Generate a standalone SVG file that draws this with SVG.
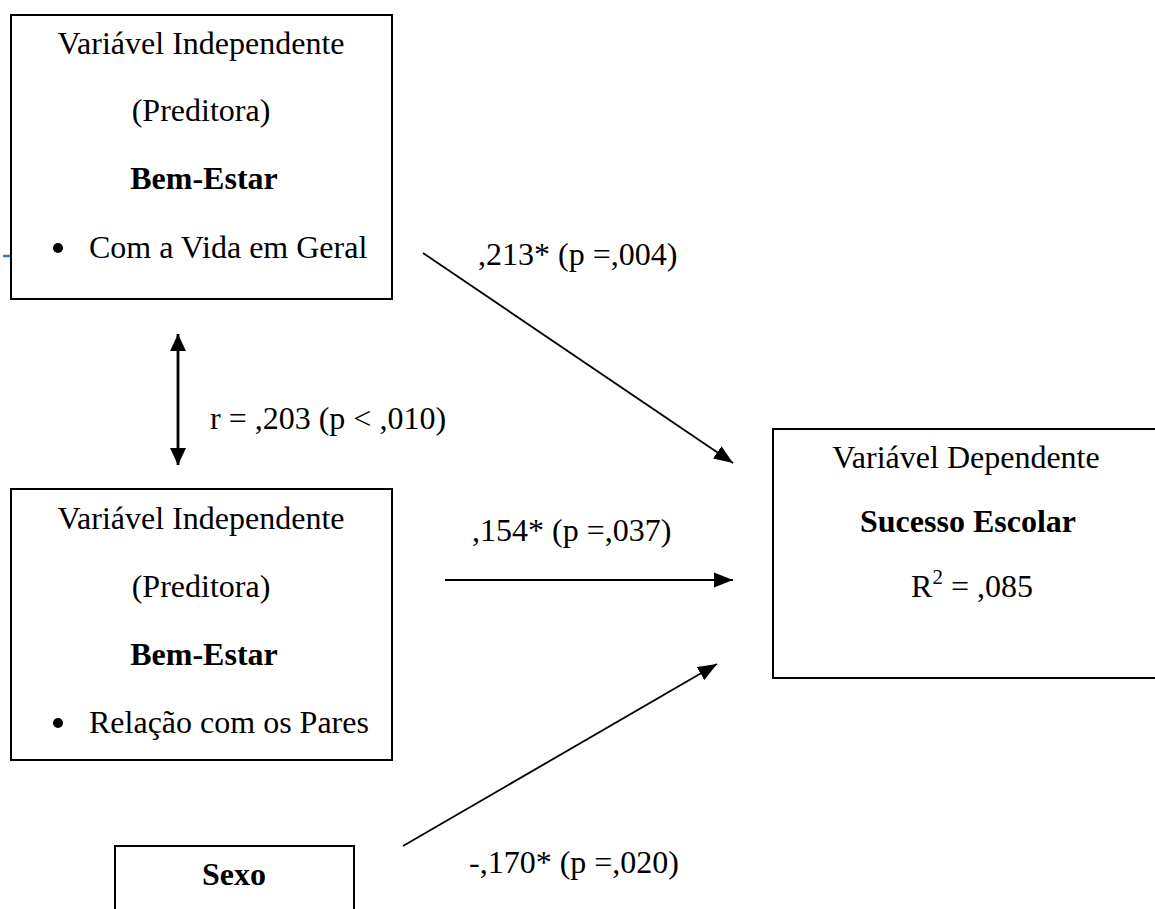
<svg xmlns="http://www.w3.org/2000/svg" width="1155" height="909" viewBox="0 0 1155 909">
<style>
.box{fill:#fff;stroke:#000;stroke-width:2}
.t{font-family:"Liberation Serif","Times New Roman",serif;font-size:32px;fill:#000}
.c{text-anchor:middle}
.b{font-weight:bold}
.ln{stroke:#000;stroke-width:1.8;fill:none}
</style>
<defs>
<marker id="ah" markerUnits="userSpaceOnUse" markerWidth="20" markerHeight="16" viewBox="0 0 20 16" refX="19" refY="8" orient="auto">
<path d="M0,0.5 L19,8 L0,15.5 Z" fill="#000"/>
</marker>
<marker id="ah2" markerUnits="userSpaceOnUse" markerWidth="18" markerHeight="18" viewBox="0 0 18 18" refX="17" refY="9" orient="auto-start-reverse">
<path d="M0,1 L17,9 L0,17 Z" fill="#000"/>
</marker>
</defs>
<rect width="1155" height="909" fill="#fff"/>
<line x1="3" y1="256" x2="10" y2="256" stroke="#2a7bd1" stroke-width="2.5"/>
<g id="node-iv1">
<rect class="box" x="11" y="15" width="381" height="284"/>
<text class="t c" x="201" y="54">Variável Independente</text>
<text class="t c" x="201" y="121">(Preditora)</text>
<text class="t c b" x="204" y="189">Bem-Estar</text>
<circle cx="58" cy="248" r="5"/>
<text class="t" x="89" y="258">Com a Vida em Geral</text>
</g>
<g id="node-iv2">
<rect class="box" x="11" y="489" width="381" height="271"/>
<text class="t c" x="201" y="529">Variável Independente</text>
<text class="t c" x="201" y="597">(Preditora)</text>
<text class="t c b" x="204" y="665">Bem-Estar</text>
<circle cx="58" cy="723" r="5"/>
<text class="t" x="89" y="733">Relação com os Pares</text>
</g>
<g id="node-dv">
<rect class="box" x="773" y="429" width="390" height="249"/>
<text class="t c" x="966" y="468">Variável Dependente</text>
<text class="t c b" x="968" y="532">Sucesso Escolar</text>
<text class="t c" x="972" y="597">R<tspan font-size="21" dy="-13">2</tspan><tspan dy="13"> = ,085</tspan></text>
</g>
<g id="node-sexo">
<rect class="box" x="115" y="846" width="239" height="80"/>
<text class="t c b" x="234" y="885">Sexo</text>
</g>
<g id="connectors">
<line class="ln" x1="423" y1="253" x2="733" y2="463" marker-end="url(#ah)"/>
<line class="ln" x1="445" y1="580" x2="733" y2="580" marker-end="url(#ah)"/>
<line class="ln" x1="403" y1="846" x2="717" y2="664" marker-end="url(#ah)"/>
<line x1="178" y1="334" x2="178" y2="465" stroke="#000" stroke-width="2.8" marker-start="url(#ah2)" marker-end="url(#ah2)"/>
<text class="t" x="478" y="265">,213* (p =,004)</text>
<text class="t" x="472" y="541">,154* (p =,037)</text>
<text class="t" x="469" y="873">-,170* (p =,020)</text>
<text class="t" x="210" y="429">r = ,203 (p &lt; ,010)</text>
</g>
</svg>
